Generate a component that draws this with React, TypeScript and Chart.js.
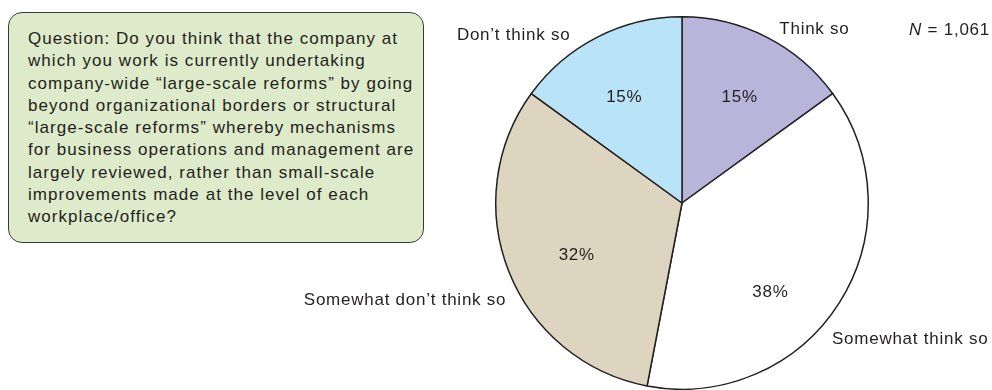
import React, { useEffect, useRef } from "react";
import { Chart, registerables } from "chart.js";

Chart.register(...registerables);

const categories = ["Think so", "Somewhat think so", "Somewhat don’t think so", "Don’t think so"];
const values = [15, 38, 32, 15];
const percentLabels = ["15%", "38%", "32%", "15%"];
const sliceColors = ["#b9b5da", "#ffffff", "#ddd5bf", "#b9e4f7"];
const sampleSymbol = "N";
const sampleNote = " = 1,061";
const questionLines = [
  "Question: Do you think that the company at",
  "which you work is currently undertaking",
  "company-wide “large-scale reforms” by going",
  "beyond organizational borders or structural",
  "“large-scale reforms” whereby mechanisms",
  "for business operations and management are",
  "largely reviewed, rather than small-scale",
  "improvements made at the level of each",
  "workplace/office?",
];

// outer label anchors in units of radius, relative to pie center
const outerLabelPos = [
  { dx: 0.711, dy: -0.93 },
  { dx: 1.225, dy: 0.73 },
  { dx: -1.487, dy: 0.52 },
  { dx: -0.904, dy: -0.90 },
];
const innerLabelPos = [
  { dx: 0.31, dy: -0.57 },
  { dx: 0.475, dy: 0.48 },
  { dx: -0.565, dy: 0.28 },
  { dx: -0.31, dy: -0.57 },
];

const FONT = '"Liberation Sans", Arial, Helvetica, sans-serif';
const TEXT = "#231f20";

const labelPlugin = {
  id: "labelPlugin",
  afterDatasetsDraw(chart: any) {
    const ctx = chart.ctx;
    const meta = chart.getDatasetMeta(0);
    ctx.save();
    ctx.fillStyle = TEXT;
    ctx.font = `17px ${FONT}`;
    (ctx as any).letterSpacing = "0.75px";
    ctx.textBaseline = "middle";
    ctx.textAlign = "center";
    meta.data.forEach((arc: any, i: number) => {
      const r = arc.outerRadius;
      const cx = arc.x;
      const cy = arc.y;
      ctx.fillText(percentLabels[i], cx + innerLabelPos[i].dx * r, cy + innerLabelPos[i].dy * r);
      ctx.fillText(categories[i], cx + outerLabelPos[i].dx * r, cy + outerLabelPos[i].dy * r);
    });
    // N label
    const w = chart.width;
    ctx.textAlign = "right";
    const restW = ctx.measureText(sampleNote).width;
    ctx.fillText(sampleNote, w - 2, 30);
    ctx.font = `italic 17px ${FONT}`;
    ctx.fillText(sampleSymbol, w - 2 - restW, 30);
    ctx.restore();
  },
};

export default function App() {
  const ref = useRef<HTMLCanvasElement>(null);
  useEffect(() => {
    document.body.style.margin = "0";
    const chart = new Chart(ref.current!, {
      type: "pie",
      data: {
        labels: categories,
        datasets: [
          {
            data: values,
            backgroundColor: sliceColors,
            borderColor: "#231f20",
            borderWidth: 1.5,
          },
        ],
      },
      options: {
        animation: false,
        responsive: false,
        layout: { padding: { top: 16, bottom: 0, left: 495, right: 123 } },
        plugins: { legend: { display: false }, tooltip: { enabled: false } },
      },
      plugins: [labelPlugin],
    });
    return () => chart.destroy();
  }, []);
  return (
    <div style={{ position: "relative", width: 992, height: 390, background: "#fff" }}>
      <canvas ref={ref} width={992} height={390} style={{ position: "absolute", left: 0, top: 0 }} />
      <div
        style={{
          position: "absolute",
          left: 8,
          top: 12,
          width: 416,
          height: 231,
          boxSizing: "border-box",
          border: "1.5px solid #3a3a3a",
          borderRadius: 14,
          background: "#deebca",
          padding: "15px 0 0 19px",
          fontFamily: FONT,
          fontSize: 17,
          letterSpacing: "1.05px",
          lineHeight: "22.3px",
          color: TEXT,
          whiteSpace: "nowrap",
        }}
      >
        {questionLines.map((l, i) => (
          <div key={i}>{l}</div>
        ))}
      </div>
    </div>
  );
}
